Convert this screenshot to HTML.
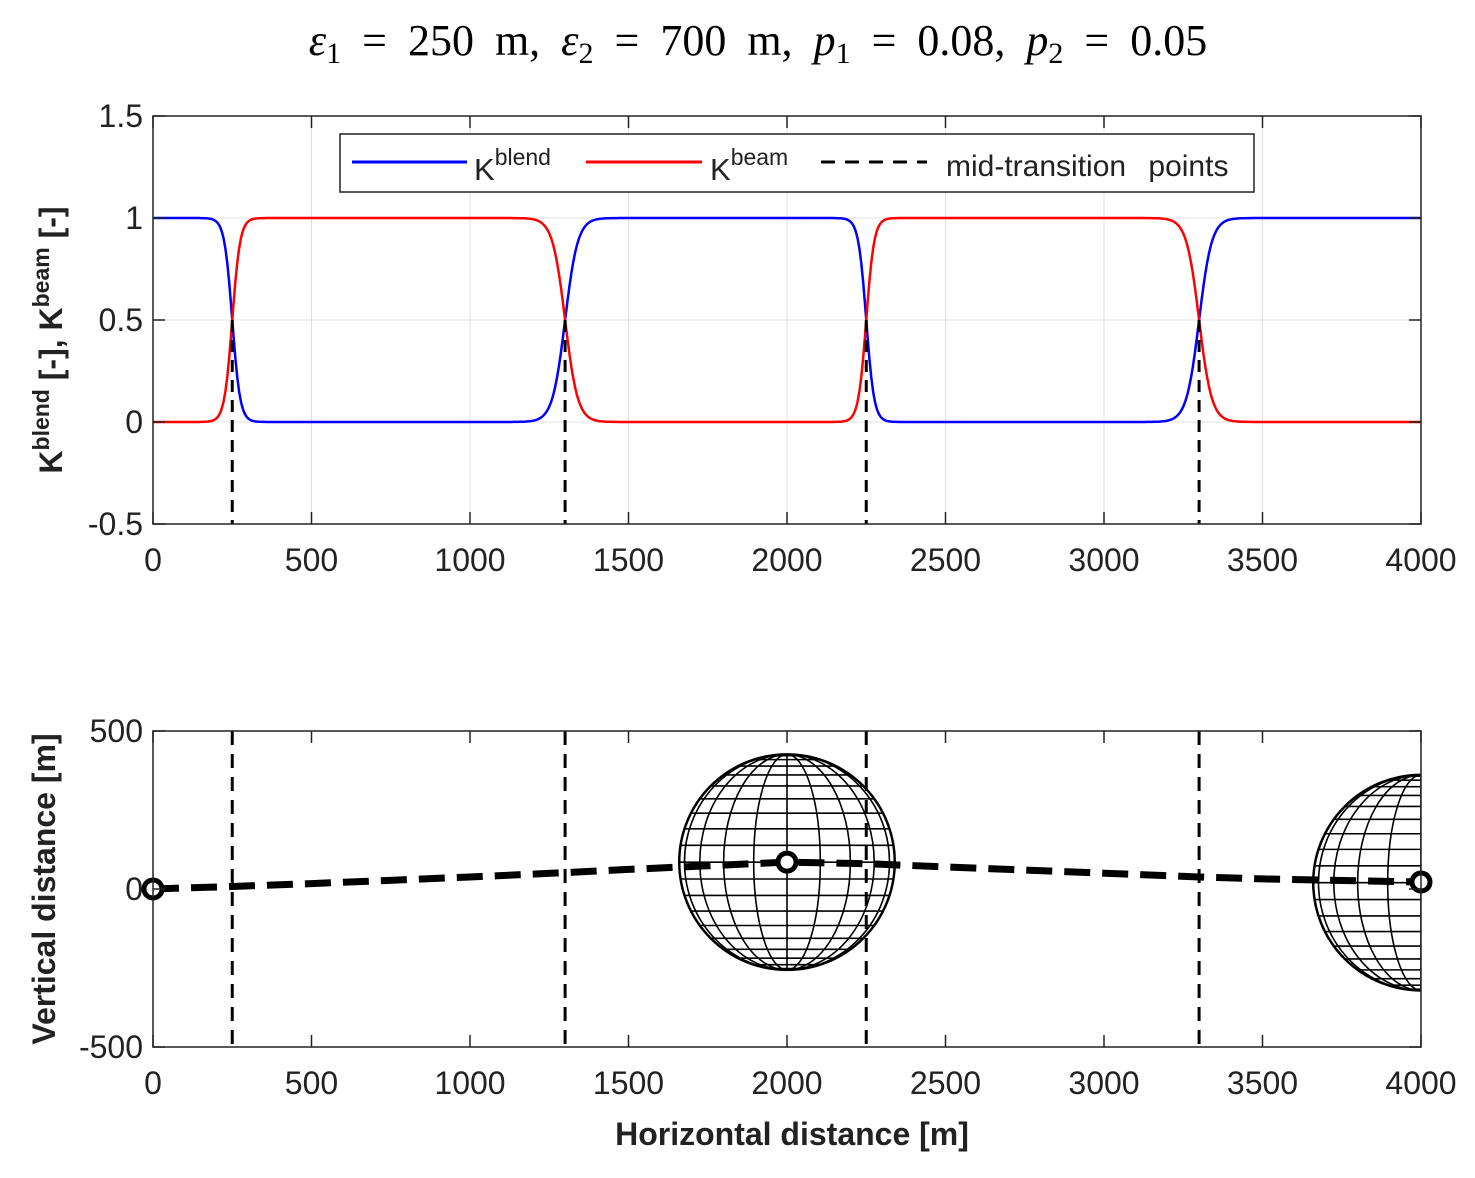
<!DOCTYPE html>
<html><head><meta charset="utf-8"><style>
body{margin:0;background:#fff;}
svg text{font-family:"Liberation Sans",sans-serif;}
</style></head><body>
<svg id="fig" width="1475" height="1173" xmlns="http://www.w3.org/2000/svg">
<defs>
<clipPath id="c1"><rect x="153" y="116" width="1268" height="408"/></clipPath>
<clipPath id="c2"><rect x="153" y="731" width="1268" height="316"/></clipPath>
</defs>
<text x="758" y="55" text-anchor="middle" font-size="44" style="font-family:'Liberation Serif',serif;word-spacing:10px"><tspan font-style="italic">ε</tspan><tspan font-size="30" dy="8">1</tspan><tspan dy="-8"> = 250 m, </tspan><tspan font-style="italic">ε</tspan><tspan font-size="30" dy="8">2</tspan><tspan dy="-8"> = 700 m, </tspan><tspan font-style="italic">p</tspan><tspan font-size="30" dy="8">1</tspan><tspan dy="-8"> = 0.08, </tspan><tspan font-style="italic">p</tspan><tspan font-size="30" dy="8">2</tspan><tspan dy="-8"> = 0.05</tspan></text>
<g id="gtop"></g>
<g id="gbot"></g>
<text transform="translate(62,340) rotate(-90)" text-anchor="middle" font-size="32" font-weight="bold" fill="#222">K<tspan font-size="23" dy="-13">blend</tspan><tspan dy="13"> [-], K</tspan><tspan font-size="23" dy="-13">beam</tspan><tspan dy="13"> [-]</tspan></text>
<text transform="translate(55,889) rotate(-90)" text-anchor="middle" font-size="32" font-weight="bold" fill="#222">Vertical distance [m]</text>
<text x="792" y="1145" text-anchor="middle" font-size="32" font-weight="bold" fill="#222">Horizontal distance [m]</text>
</svg>
<script>
const xTicks=[0,500,1000,1500,2000,2500,3000,3500,4000];
const yTicksTop=[-0.5,0,0.5,1,1.5];
const yTicksBot=[-500,0,500];
const midPoints=[250,1300,2250,3300];
const steepness=[0.08,0.05,0.08,0.05];
const pathX=[0,250,500,1000,1300,1500,2000,2250,2500,3000,3300,3500,4000];
const pathY=[0,8,17,38,52,62,85,80,70,50,38,32,22];
const waypointsX=[0,2000,4000];
const waypointsY=[0,85,22];
const sphereX=[2000,4000];
const sphereY=[85,20];
const sphereR=[340,340];
const NS="http://www.w3.org/2000/svg";
const X0=153,X1=1421;
const sx=v=>X0+(v/4000)*(X1-X0);
const syT=v=>524-(v+0.5)/2*408;
const syB=v=>1047-(v+500)/1000*316;
function mk(tag,attrs,parent){const e=document.createElementNS(NS,tag);for(const k in attrs)e.setAttribute(k,attrs[k]);parent.appendChild(e);return e;}
const gTop=document.getElementById('gtop'),gBot=document.getElementById('gbot');
xTicks.forEach(t=>{const l=mk('line',{x1:sx(t),x2:sx(t),y1:116,y2:524,stroke:'#e0e0e0','stroke-width':1},gTop);

});
yTicksTop.forEach(t=>{const l=mk('line',{x1:X0,x2:X1,y1:syT(t),y2:syT(t),stroke:'#e0e0e0','stroke-width':1},gTop);

});
function blend(x){let best=0,d=1e9;midPoints.forEach((m,i)=>{if(Math.abs(x-m)<d){d=Math.abs(x-m);best=i;}});
const m=midPoints[best],p=steepness[best];const s=1/(1+Math.exp(p*(x-m)));return best%2===0? s:1-s;}
let pb='',pr='';for(let x=0;x<=4000;x+=2){const b=blend(x);pb+=(x?'L':'M')+sx(x).toFixed(1)+','+syT(b).toFixed(1);pr+=(x?'L':'M')+sx(x).toFixed(1)+','+syT(1-b).toFixed(1);}
let e=mk('path',{d:pb,fill:'none',stroke:'#0000ff','stroke-width':2.5,'clip-path':'url(#c1)'},gTop);


e=mk('path',{d:pr,fill:'none',stroke:'#ff0000','stroke-width':2.5,'clip-path':'url(#c1)'},gTop);


midPoints.forEach(m=>{const l=mk('line',{x1:sx(m),x2:sx(m),y1:syT(0.5),y2:524,stroke:'#000','stroke-width':3,'stroke-dasharray':'12,8'},gTop);

});
e=mk('rect',{x:X0,y:116,width:X1-X0,height:408,fill:'none',stroke:'#222','stroke-width':1.5},gTop);


function ticks(g,sy,yt,yTop,yBot){
xTicks.forEach(t=>{mk('line',{x1:sx(t),x2:sx(t),y1:yBot,y2:yBot-12,stroke:'#222','stroke-width':1.5},g);mk('line',{x1:sx(t),x2:sx(t),y1:yTop,y2:yTop+12,stroke:'#222','stroke-width':1.5},g);
const tx=mk('text',{x:sx(t),y:yBot+47,'text-anchor':'middle','font-size':32,fill:'#222'},g);tx.textContent=t;

});
yt.forEach(t=>{mk('line',{x1:X0,x2:X0+12,y1:sy(t),y2:sy(t),stroke:'#222','stroke-width':1.5},g);mk('line',{x1:X1,x2:X1-12,y1:sy(t),y2:sy(t),stroke:'#222','stroke-width':1.5},g);
const tx=mk('text',{x:X0-10,y:sy(t)+11,'text-anchor':'end','font-size':32,fill:'#222'},g);tx.textContent=String(t);

});}
ticks(gTop,syT,yTicksTop,116,524);
const lg=mk('g',{},gTop);


mk('rect',{x:340,y:134,width:914,height:58,fill:'#fff',stroke:'#222','stroke-width':1.5},lg);
mk('line',{x1:352,x2:467,y1:162,y2:162,stroke:'#0000ff','stroke-width':3},lg);
let t=mk('text',{x:474,y:180,'font-size':31,fill:'#222'},lg);t.innerHTML='K<tspan font-size="23" dy="-15">blend</tspan>';
mk('line',{x1:586,x2:702,y1:162,y2:162,stroke:'#ff0000','stroke-width':3},lg);
t=mk('text',{x:710,y:180,'font-size':31,fill:'#222'},lg);t.innerHTML='K<tspan font-size="23" dy="-15">beam</tspan>';
mk('line',{x1:821,x2:927,y1:162,y2:162,stroke:'#000','stroke-width':3,'stroke-dasharray':'14,10'},lg);
t=mk('text',{x:946,y:176,'font-size':30,fill:'#222','word-spacing':'14'},lg);t.textContent='mid-transition points';
sphereX.forEach((cx,i)=>{const g=mk('g',{'clip-path':'url(#c2)',fill:'none',stroke:'#000','stroke-width':1.6},gBot);


const px=sx(cx),py=syB(sphereY[i]),r=sphereR[i]*(X1-X0)/4000;
mk('ellipse',{cx:px,cy:py,rx:r,ry:r,fill:'#fff','stroke-width':2.5},g);
for(let k=1;k<5;k++){const a=k*Math.PI/10;mk('ellipse',{cx:px,cy:py,rx:r*Math.cos(a),ry:r},g);}
mk('line',{x1:px,x2:px,y1:py-r,y2:py+r},g);
for(let k=-9;k<=9;k++){const yy=r*Math.sin(k*Math.PI/20),w=r*Math.cos(k*Math.PI/20);mk('line',{x1:px-w,x2:px+w,y1:py-yy,y2:py-yy},g);}});
midPoints.forEach(m=>{const l=mk('line',{x1:sx(m),x2:sx(m),y1:731,y2:1047,stroke:'#000','stroke-width':3,'stroke-dasharray':'14,9'},gBot);

});
let pp=pathX.map((x,i)=>(i?'L':'M')+sx(x).toFixed(1)+','+syB(pathY[i]).toFixed(1)).join('');
e=mk('path',{d:pp,fill:'none',stroke:'#000','stroke-width':7,'stroke-dasharray':'26,12','clip-path':'url(#c2)'},gBot);


waypointsX.forEach((x,i)=>{const c=mk('circle',{cx:sx(x),cy:syB(waypointsY[i]),r:9,fill:'#fff',stroke:'#000','stroke-width':5},gBot);

});
e=mk('rect',{x:X0,y:731,width:X1-X0,height:316,fill:'none',stroke:'#222','stroke-width':1.5},gBot);


ticks(gBot,syB,yTicksBot,731,1047);
</script>
</body></html>
